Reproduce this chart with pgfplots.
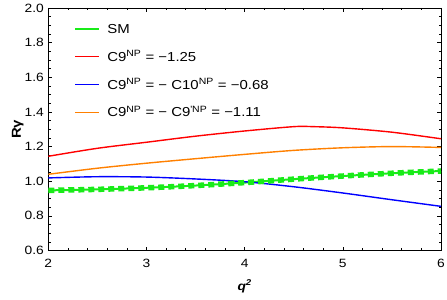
\documentclass[border=0pt]{standalone}
\usepackage{pgfplots}
\pgfplotsset{compat=1.18}
\usepackage{fontspec}
\setmainfont{Liberation Sans}[FakeStretch=1.15]
\definecolor{mgreen}{rgb}{0.1,0.92,0.1}
\definecolor{morange}{rgb}{1,0.5,0}
\begin{document}
\begin{tikzpicture}
\begin{axis}[
  name=ax,
  scale only axis,
  width=392.7bp, height=242.5bp,
  xmin=2, xmax=6, ymin=0.6, ymax=2.0,
  xtick={2,3,4,5,6}, ytick={0.6,0.8,1.0,1.2,1.4,1.6,1.8,2.0},
  minor x tick num=4, minor y tick num=3,
  tick align=inside,
  major tick length=4bp, minor tick length=2.5bp,
  every tick/.style={black, line width=0.5bp},
  axis line style={line width=0.9bp},
  /pgf/number format/assume math mode=true,
  yticklabel style={/pgf/number format/fixed, /pgf/number format/fixed zerofill, /pgf/number format/precision=1, font=\fontsize{12bp}{14bp}\selectfont, xshift=-1bp},
  xticklabel style={font=\fontsize{12bp}{14bp}\selectfont, yshift=-5bp},
  xlabel={\textbf{\textit{q\textsuperscript{2}}}},
  xlabel style={at={(axis description cs:0.5,0)}, anchor=north, yshift=-26bp, font=\fontsize{12bp}{14bp}\selectfont},
  legend cell align=left,
  legend style={draw=none, fill=none, at={(0,1)}, anchor=north west, xshift=23bp, yshift=-12bp,
    font=\fontsize{13bp}{15bp}\selectfont, row sep=11.8bp, column sep=5bp},
  legend image post style={xscale=1.4},
]
\addplot[color=mgreen, line width=2bp, smooth] coordinates {
(2,0.947) (2.5,0.953) (3,0.962) (3.5,0.975) (4,0.992) (4.5,1.012) (5,1.030) (5.5,1.046) (6,1.059)};
\addlegendentry{SM}
\addplot[red, line width=1.4bp, smooth] coordinates {
(2,1.144) (2.5,1.19) (3,1.225) (3.5,1.26) (4,1.29) (4.5,1.315) (4.7,1.315) (5,1.308) (5.5,1.283) (6,1.245)};
\addlegendentry{C9\textsuperscript{NP} = −1.25}
\addplot[blue, line width=1.4bp, smooth] coordinates {
(2,1.019) (2.5,1.026) (3,1.024) (3.5,1.013) (4,0.997) (4.5,0.968) (5,0.932) (5.5,0.893) (6,0.855)};
\addlegendentry{C9\textsuperscript{NP} = − C10\textsuperscript{NP} = −0.68}
\addplot[morange, line width=1.4bp, smooth] coordinates {
(2,1.040) (2.5,1.075) (3,1.104) (3.5,1.130) (4,1.155) (4.5,1.178) (5,1.193) (5.5,1.200) (6,1.195)};
\addlegendentry{C9\textsuperscript{NP} = − C9\textsuperscript{\textquotesingle NP} = −1.11}
\addplot[mgreen, line width=5.5bp, smooth, dash pattern=on 6bp off 4bp, forget plot] coordinates {
(2,0.947) (2.5,0.953) (3,0.962) (3.5,0.975) (4,0.992) (4.5,1.012) (5,1.030) (5.5,1.046) (6,1.059)};
\end{axis}
\coordinate (yl) at ([xshift=-30.5bp, yshift=121.25bp]ax.south west);
\node[rotate=90, font=\fontsize{13bp}{15bp}\selectfont\bfseries] at (yl) {Rγ};
\pgfresetboundingbox
\path ([xshift=-48.3bp,yshift=-49.5bp]ax.south west) rectangle ([xshift=6bp,yshift=8bp]ax.north east);
\end{tikzpicture}
\end{document}
